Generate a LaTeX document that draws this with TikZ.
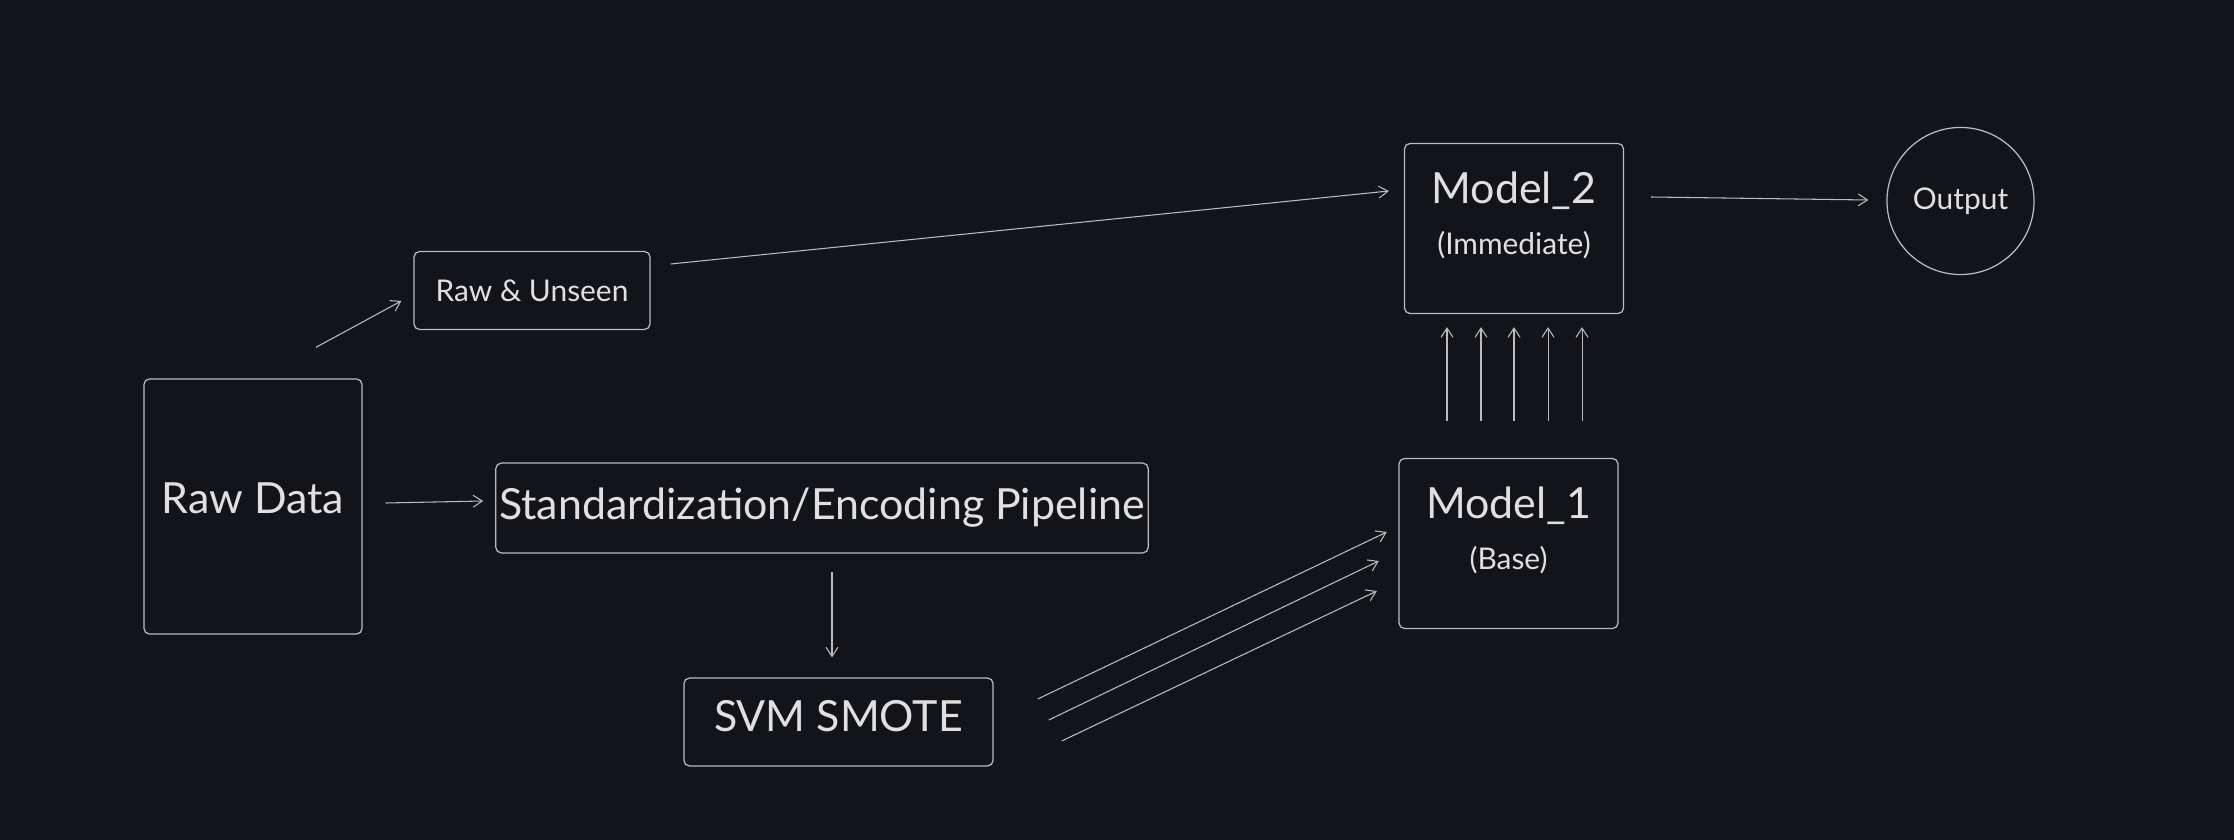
\documentclass[tikz,border=0pt]{standalone}
\usepackage{fontspec}
\setmainfont{Lato}
\usepackage{tikz}
\usetikzlibrary{arrows.meta,calc}
\definecolor{bgdark}{HTML}{121419}
\definecolor{strokegray}{HTML}{BCBCBC}
\definecolor{textgray}{HTML}{E0E0E0}
\newcommand{\lblbig}{\fontsize{12.2}{14}\selectfont}
\newcommand{\lblsmall}{\fontsize{8.5}{10}\selectfont}

\begin{document}
\begin{tikzpicture}[x=0.01cm,y=-0.01cm,
    box/.style={draw=strokegray,line width=0.35pt,rounded corners=1.6pt,inner sep=0pt,text=textgray,align=center},
    arr/.style={draw=strokegray,line width=0.3pt,-{Straight Barb[length=2.6pt,width=3.4pt]}}]
    \fill[bgdark](0,0)rectangle(2234,840);
    \useasboundingbox(0,0)rectangle(2234,840);
    % boxes
    \node[box,minimum width=2.18cm,minimum height=2.55cm,text depth=4.8pt,font=\lblbig](rawdata)at(253,506.5){Raw Data};
    \node[box,minimum width=2.36cm,minimum height=0.78cm,font=\lblsmall](unseen)at(532,290.5){Raw \& Unseen};
    \node[box,minimum width=6.52cm,minimum height=0.9cm,font=\lblbig](pipeline)at(822,508){Standardization/Encoding Pipeline};
    \node[box,minimum width=3.09cm,minimum height=0.88cm,text depth=3.2pt,font=\lblbig](smote)at(838.5,722){SVM SMOTE};
    \node[box,minimum width=2.19cm,minimum height=1.7cm,text depth=8.5pt](model2)at(1514,228.5){{\lblbig Model\_2}\\[2.5pt]{\lblsmall (Immediate)}};
    \node[box,minimum width=2.19cm,minimum height=1.7cm,text depth=8.5pt](model1)at(1508.5,543.5){{\lblbig Model\_1}\\[2.5pt]{\lblsmall (Base)}};
    \node[box,circle,minimum size=1.47cm,font=\lblsmall](output)at(1960.5,201){Output};
    % connectors
    \draw[arr]([shift={(63,-31)}]rawdata.north)--([shift={(-12,10.5)}]unseen.west);
    \draw[arr]([shift={(20,-26.5)}]unseen.east)--([shift={(-15,-37.5)}]model2.west);
    \draw[arr]([shift={(23,-3.5)}]rawdata.east)--([shift={(-12,-7)}]pipeline.west);
    \draw[arr]([shift={(10,18)}]pipeline.south)--([shift={(-6.5,-20)}]smote.north);
    \foreach \sx/\sy/\ex/\ey in {44/-23/-11.5/-11.5,55/-2/-19.5/17.5,68/19/-21.5/47.5}
      \draw[arr]([shift={(\sx,\sy)}]smote.east)--([shift={(\ex,\ey)}]model1.west);
    \foreach \dx in {-67,-33,0,34,68}
      \draw[arr]([shift={(\dx+5.5,-37)}]model1.north)--([shift={(\dx,13)}]model2.south);
    \draw[arr]([shift={(27,-31.5)}]model2.east)--([shift={(-18,-1)}]output.west);
\end{tikzpicture}
\end{document}
